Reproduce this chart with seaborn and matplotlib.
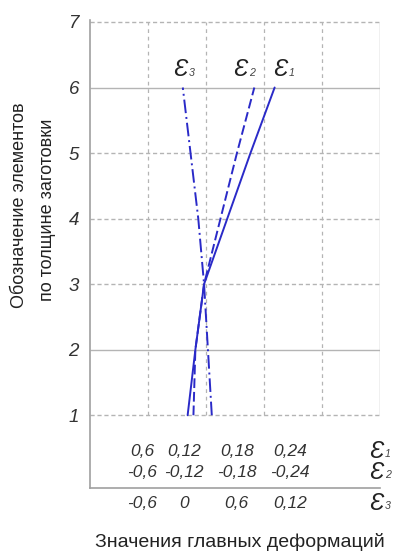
import numpy as np
import pandas as pd
import matplotlib
matplotlib.use("Agg")
import matplotlib.pyplot as plt
import seaborn as sns

sns.set_style("white")
plt.rcParams['font.family'] = ['Liberation Sans', 'DejaVu Sans']

# номера элементов по толщине заготовки
elements = [1, 2, 3, 4, 5, 6]
# главные деформации (оценка по рисунку)
eps1 = [0.101, 0.109, 0.118, 0.142, 0.166, 0.191]
eps2 = [-0.107, -0.109, -0.118, -0.135, -0.152, -0.170]
eps3 = [0.006, 0.002, -0.002, -0.008, -0.016, -0.024]

# подписи шкал
row1 = ["0,6", "0,12", "0,18", "0,24"]
row2 = ["-0,6", "-0,12", "-0,18", "-0,24"]
row3 = ["-0,6", "0", "0,6", "0,12"]
ytick_labels = ["1", "2", "3", "4", "5", "6", "7"]

step = 0.06  # цена деления сетки

# перевод каждой деформации в общую шкалу делений сетки
df = pd.concat([
    pd.DataFrame({"el": elements, "pos": np.array(eps1) / step, "s": "e1"}),
    pd.DataFrame({"el": elements, "pos": -np.array(eps2) / step, "s": "e2"}),
    pd.DataFrame({"el": elements, "pos": np.array(eps3) / step + 2, "s": "e3"}),
])

narrow = ['Liberation Sans Narrow', 'Liberation Sans', 'DejaVu Sans']

fig = plt.figure(figsize=(3.93, 5.53), dpi=100)
ax = fig.add_axes([90 / 393, 65 / 553, 290 / 393, 468 / 553])

grid_c = "#b4b4b4"
ax.vlines([1, 2, 3, 4], 1, 7, colors=grid_c, linestyles=(0, (3, 3)), lw=0.9)
ax.vlines([5], 1, 7, colors=grid_c, lw=1.0)
for yy in [1, 3, 4, 5, 7]:
    ax.hlines(yy, 0, 5, colors=grid_c, linestyles=(0, (3, 2)), lw=1.0)
for yy in [2, 6]:
    ax.hlines(yy, 0, 5, colors=grid_c, lw=1.0)

line_c = "#2a2ac8"
styles = {"e1": "-", "e2": (0, (5, 2)), "e3": (0, (7, 2, 1, 2))}
for s, ls in styles.items():
    sub = df[df["s"] == s]
    sns.lineplot(data=sub, x="pos", y="el", sort=False, estimator=None,
                 color=line_c, lw=1.4, linestyle=ls, ax=ax)


def eps_label(x, y, k, size=17):
    # буква эпсилон с мелким индексом
    ax.text(x, y, "Ɛ", fontsize=size, style="italic", color="#222222",
            ha="center", va="center", family=narrow, clip_on=False)
    ax.annotate(str(k), (x, y), xytext=(size * 0.38, -size * 0.12),
                textcoords="offset points", fontsize=size * 0.45,
                style="italic", color="#444444", ha="left", va="center",
                family=narrow, annotation_clip=False)


# подписи линий
top = df[df["el"] == 6].set_index("s")["pos"]
for s, k, dx in [("e3", 3, -0.05), ("e2", 2, -0.24), ("e1", 1, 0.09)]:
    eps_label(top[s] + dx, 6.27, k)

ax.set_xlim(0, 5)
ax.set_ylim(-0.11, 7.03)

# подписи шкал деформаций
lab_x = [0.9, 1.62, 2.53, 3.45]
ital = dict(fontsize=12.5, style="italic", color="#333333", ha="center",
            va="center", family=narrow)
for x, a, b, c in zip(lab_x, row1, row2, row3):
    ax.text(x, 0.45, a, **ital)
    ax.text(x, 0.13, b, **ital)
    ax.text(x, -0.34, c, clip_on=False, **ital)
for yy, k in [(0.45, 1), (0.13, 2), (-0.34, 3)]:
    eps_label(4.93, yy, k)

ax.set_yticks(range(1, 8))
ax.set_yticklabels(ytick_labels, fontsize=13.5, style="italic", color="#333333",
                   family=narrow)
ax.set_xticks([])
ax.tick_params(axis="y", length=0, pad=8)
ax.set_xlabel("")
ax.set_ylabel("")
fig.text(20 / 393, 1 - 205 / 553, "Обозначение элементов", rotation=90,
         fontsize=13, color="#222222", ha="center", va="center")
fig.text(48 / 393, 1 - 210 / 553, "по толщине заготовки", rotation=90,
         fontsize=13, color="#222222", ha="center", va="center")
fig.text(240 / 393, 1 - 542 / 553, "Значения главных деформаций", fontsize=14,
         color="#222222", ha="center", va="center")

for side in ["top", "right"]:
    ax.spines[side].set_visible(False)
ax.spines["left"].set_color("#a0a0a0")
ax.spines["bottom"].set_color("#a0a0a0")
ax.spines["left"].set_linewidth(1.2)
ax.spines["bottom"].set_linewidth(1.2)

fig.savefig("out.png", dpi=100)
